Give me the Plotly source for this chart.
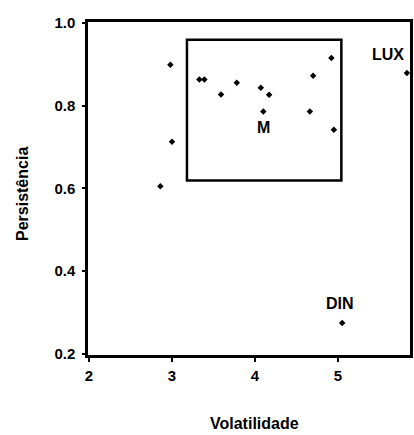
import plotly.graph_objects as go

# Volatility / persistence pairs for each series
volatilidade = [2.98, 3.00, 2.86, 3.33, 3.39, 3.59, 3.78, 4.07, 4.17, 4.10, 4.70, 4.66, 4.92, 4.95, 5.83, 5.05]
persistencia = [0.899, 0.713, 0.605, 0.863, 0.863, 0.827, 0.855, 0.843, 0.826, 0.786, 0.872, 0.786, 0.915, 0.742, 0.879, 0.275]

# Labelled points
rotulos = ["M", "LUX", "DIN"]
rotulos_x = [4.10, 5.60, 5.02]
rotulos_y = [0.747, 0.923, 0.323]

# Highlighted region (volatility and persistence bounds)
caixa_x = [3.18, 5.04]
caixa_y = [0.619, 0.959]

x_ticks = [2, 3, 4, 5]
y_ticks = [0.2, 0.4, 0.6, 0.8, 1.0]
y_tick_text = ["0.2", "0.4", "0.6", "0.8", "1.0"]

FONT = "Liberation Sans, Arial, sans-serif"

W, H = 414, 435
L, R, T, B = 88, 4, 22, 80


def to_paper(px, py):
    """Pixel position on the page -> paper coordinates."""
    return (px - L) / (W - L - R), (H - B - py) / (H - T - B)


fig = go.Figure()

fig.add_trace(go.Scatter(
    x=volatilidade, y=persistencia, mode="markers",
    marker=dict(symbol="diamond", size=5, color="black", line=dict(width=0)),
    showlegend=False, hoverinfo="skip",
))

fig.add_shape(type="rect", xref="x", yref="y",
              x0=caixa_x[0], x1=caixa_x[1], y0=caixa_y[0], y1=caixa_y[1],
              line=dict(color="black", width=2.5), fillcolor="rgba(0,0,0,0)")

for t, x, y in zip(rotulos, rotulos_x, rotulos_y):
    fig.add_annotation(x=x, y=y, xref="x", yref="y", text=t, showarrow=False,
                       font=dict(family=FONT, size=16, color="black", weight="bold"))

# Axis titles
tx, ty = to_paper(254, 423)
fig.add_annotation(x=tx, y=ty, xref="paper", yref="paper", text="Volatilidade",
                   showarrow=False, xanchor="center", yanchor="middle",
                   font=dict(family=FONT, size=16, color="black", weight="bold"))
tx, ty = to_paper(22, 194)
fig.add_annotation(x=tx, y=ty, xref="paper", yref="paper", text="Persistência",
                   textangle=-90, showarrow=False, xanchor="center", yanchor="middle",
                   font=dict(family=FONT, size=16, color="black", weight="bold"))

fig.update_xaxes(
    range=[1.988, 5.867], tickvals=x_ticks, ticks="outside", ticklen=4, tickwidth=2,
    tickcolor="black", showline=True, linecolor="black", linewidth=2.5, mirror=True,
    showgrid=False, zeroline=False, ticklabelstandoff=1,
    tickfont=dict(family=FONT, size=15, color="black", weight="bold"),
)
fig.update_yaxes(
    range=[0.1976, 1.002], tickvals=y_ticks, ticktext=y_tick_text, ticks="outside",
    ticklen=3, tickwidth=2, tickcolor="black", showline=True, linecolor="black",
    linewidth=2.5, mirror=True, showgrid=False, zeroline=False, ticklabelstandoff=4,
    tickfont=dict(family=FONT, size=15, color="black", weight="bold"),
)

fig.update_layout(
    width=W, height=H, margin=dict(l=L, r=R, t=T, b=B, autoexpand=False),
    plot_bgcolor="white", paper_bgcolor="white",
)

fig.write_html("out.html")
